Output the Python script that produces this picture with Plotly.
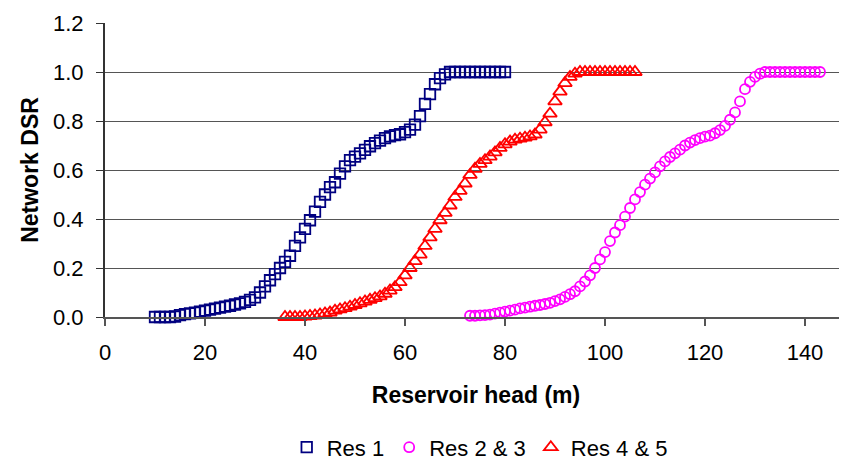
import plotly.graph_objects as go

# Reservoir head (m) for each series
res1_head = list(range(10, 81))
res23_head = list(range(73, 144))
res45_head = list(range(36, 107))

# Network DSR values
res1_dsr = [
    0.0, 0.0, 0.0, 0.0, 0.002, 0.008, 0.012, 0.015, 0.018, 0.022,
    0.026, 0.03, 0.034, 0.038, 0.042, 0.046, 0.051, 0.056, 0.062, 0.07,
    0.08, 0.10, 0.125, 0.15, 0.175, 0.20, 0.225, 0.25, 0.29, 0.325,
    0.36, 0.395, 0.43, 0.47, 0.50, 0.53, 0.55, 0.585, 0.615, 0.64,
    0.655, 0.668, 0.682, 0.697, 0.71, 0.72, 0.73, 0.737, 0.742, 0.746,
    0.755, 0.765, 0.785, 0.82, 0.87, 0.91, 0.95, 0.975, 0.99, 1.0,
    1.0, 1.0, 1.0, 1.0, 1.0, 1.0, 1.0, 1.0, 1.0, 1.0,
    1.0,
]
res23_dsr = [
    0.005, 0.005, 0.007, 0.008, 0.01, 0.014, 0.018, 0.022, 0.026, 0.03,
    0.035, 0.038, 0.042, 0.046, 0.049, 0.053, 0.058, 0.065, 0.072, 0.082,
    0.093, 0.105, 0.125, 0.145, 0.17, 0.20, 0.235, 0.265, 0.31, 0.345,
    0.375, 0.41, 0.445, 0.48, 0.51, 0.54, 0.565, 0.59, 0.615, 0.635,
    0.653, 0.668, 0.683, 0.70, 0.712, 0.722, 0.73, 0.736, 0.74, 0.75,
    0.763, 0.78, 0.805, 0.835, 0.88, 0.93, 0.96, 0.98, 0.993, 1.0,
    1.0, 1.0, 1.0, 1.0, 1.0, 1.0, 1.0, 1.0, 1.0, 1.0,
    1.0,
]
res45_dsr = [
    0.0, 0.0, 0.0, 0.0, 0.002, 0.004, 0.006, 0.01, 0.014, 0.018,
    0.026, 0.031, 0.036, 0.042, 0.049, 0.056, 0.063, 0.07, 0.077, 0.084,
    0.095, 0.108, 0.122, 0.142, 0.17, 0.20, 0.228, 0.255, 0.29, 0.325,
    0.36, 0.395, 0.425, 0.455, 0.49, 0.515, 0.545, 0.58, 0.605, 0.625,
    0.64, 0.655, 0.672, 0.69, 0.705, 0.716, 0.724, 0.728, 0.732, 0.737,
    0.745, 0.765, 0.795, 0.83, 0.88, 0.92, 0.955, 0.98, 0.993, 1.0,
    1.0, 1.0, 1.0, 1.0, 1.0, 1.0, 1.0, 1.0, 1.0, 1.0,
    1.0,
]

x_ticks = [0, 20, 40, 60, 80, 100, 120, 140]
y_ticks = [0.0, 0.2, 0.4, 0.6, 0.8, 1.0, 1.2]
y_tick_text = ["0.0", "0.2", "0.4", "0.6", "0.8", "1.0", "1.2"]

FONT = "Liberation Sans, Arial, sans-serif"

fig = go.Figure()
fig.add_trace(go.Scatter(
    x=res1_head, y=res1_dsr, mode="markers", name="Res 1",
    marker=dict(symbol="square-open", size=10.5, color="#000080",
                line=dict(width=1.8, color="#000080")),
    cliponaxis=False,
))
fig.add_trace(go.Scatter(
    x=res23_head, y=res23_dsr, mode="markers", name="Res 2 & 3",
    marker=dict(symbol="circle-open", size=10, color="#FF00FF",
                line=dict(width=1.8, color="#FF00FF")),
    cliponaxis=False,
))
fig.add_trace(go.Scatter(
    x=res45_head, y=res45_dsr, mode="markers", name="Res 4 & 5",
    marker=dict(symbol="triangle-up-open", size=12, color="#FF0000",
                line=dict(width=1.8, color="#FF0000")),
    cliponaxis=False,
))

fig.update_layout(
    width=839, height=454,
    margin=dict(l=97, r=0, t=15, b=145, autoexpand=False),
    paper_bgcolor="white", plot_bgcolor="white",
    font=dict(family=FONT, size=22, color="black"),
    showlegend=True,
    legend=dict(orientation="h", x=0.505, xanchor="center", y=-0.515, yanchor="bottom",
                font=dict(size=22), itemwidth=30, tracegroupgap=0,
                bgcolor="rgba(0,0,0,0)"),
    xaxis=dict(
        range=[0, 148.4], tickvals=x_ticks, ticks="outside", ticklen=7, tickwidth=2,
        tickcolor="#555555", showline=True, linecolor="#555555", linewidth=2,
        showgrid=False, zeroline=False, ticklabelstandoff=8, automargin=False,
        title=dict(text="<b>Reservoir head (m)</b>", font=dict(size=23), standoff=22),
    ),
    yaxis=dict(
        range=[0, 1.2], tickvals=y_ticks, ticktext=y_tick_text, ticks="outside",
        ticklen=7, tickwidth=1, tickcolor="#333333", showline=True, linecolor="#333333",
        linewidth=2, showgrid=True, gridcolor="#555555", gridwidth=1, zeroline=False,
        ticklabelstandoff=8, automargin=False,
        title=dict(text="<b>Network DSR</b>", font=dict(size=23), standoff=8),
    ),
)

fig.write_html("out.html")
